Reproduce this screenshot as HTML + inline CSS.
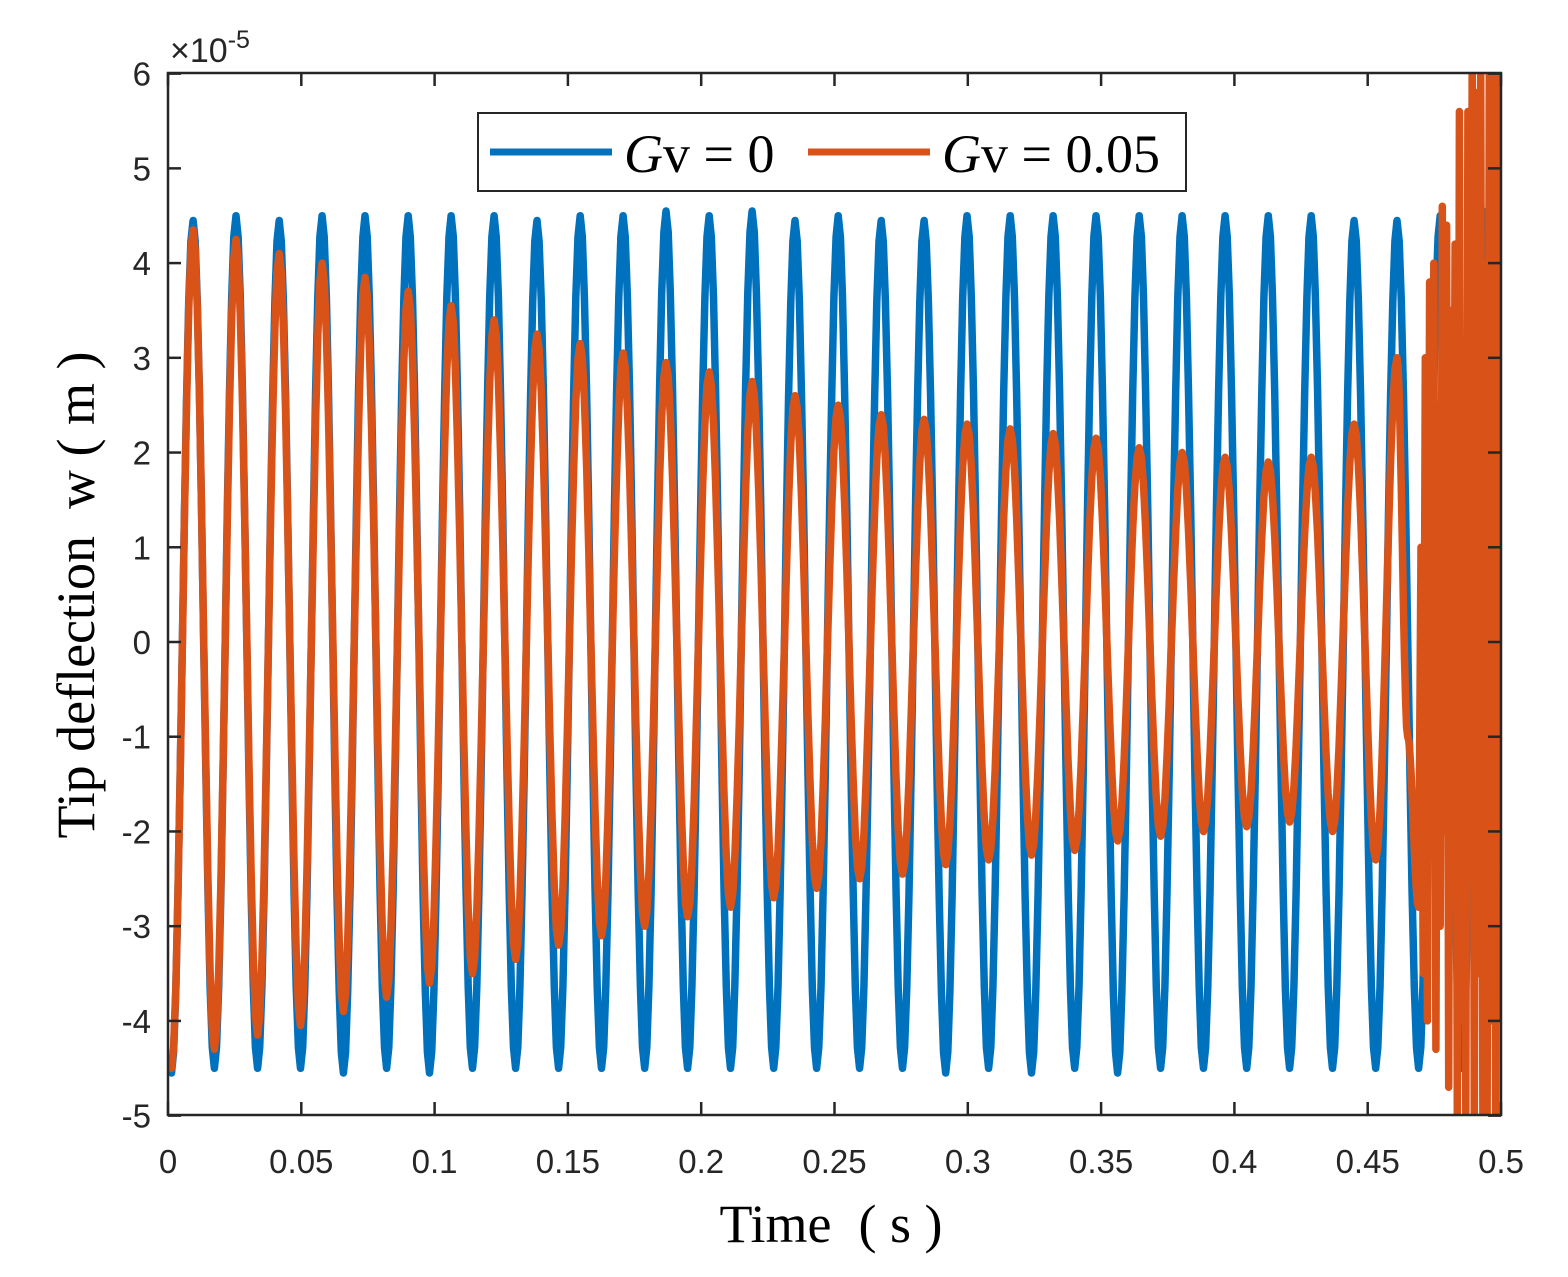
<!DOCTYPE html>
<html><head><meta charset="utf-8"><style>
body{margin:0;background:#fff;width:1568px;height:1277px;overflow:hidden}
svg{display:block}
.tk{font-family:"Liberation Sans",sans-serif;font-size:33px;fill:#262626}
.lab{font-family:"Liberation Serif",serif;font-size:54px;fill:#000}
</style></head><body>
<svg id="chart" width="1568" height="1277" xmlns="http://www.w3.org/2000/svg">
<defs><clipPath id="clip"><rect x="168" y="73" width="1333" height="1042"/></clipPath></defs>
<rect x="168" y="73" width="1333" height="1042" fill="#fff"/>
<g id="series" clip-path="url(#clip)"></g>
<rect x="168" y="73" width="1333" height="1042" fill="none" stroke="#262626" stroke-width="2.5"/>
<g id="ticks"></g>
<text class="tk" x="170" y="62" style="font-size:34px">×10<tspan dy="-14" style="font-size:25px">-5</tspan></text>
<text class="lab" x="831" y="1242" text-anchor="middle" xml:space="preserve">Time  ( s )</text>
<text class="lab" transform="translate(94,595) rotate(-90)" text-anchor="middle" xml:space="preserve">Tip deflection  w ( m )</text>
<g>
<rect x="478" y="113" width="708" height="78" fill="#fff" stroke="#262626" stroke-width="2"/>
<line x1="490" y1="152" x2="612" y2="152" stroke="#0072BD" stroke-width="7"/>
<text class="lab" x="624" y="172"><tspan font-style="italic">G</tspan>v = 0</text>
<line x1="808" y1="152" x2="930" y2="152" stroke="#D95319" stroke-width="7"/>
<text class="lab" x="942" y="172"><tspan font-style="italic">G</tspan>v = 0.05</text>
</g>
</svg>
<script>
const xTicks=[0,0.05,0.1,0.15,0.2,0.25,0.3,0.35,0.4,0.45,0.5];
const xTickLabels=["0","0.05","0.1","0.15","0.2","0.25","0.3","0.35","0.4","0.45","0.5"];
const yTicks=[-5,-4,-3,-2,-1,0,1,2,3,4,5,6];
const blueTimes=[0,0.0013,0.0094,0.0174,0.0255,0.0336,0.0417,0.0497,0.0578,0.0658,0.0739,0.0820,0.0901,0.0981,0.1062,0.1142,0.1223,0.1304,0.1384,0.1465,0.1546,0.1626,0.1707,0.1788,0.1868,0.1949,0.2030,0.2110,0.2191,0.2272,0.2352,0.2433,0.2514,0.2594,0.2675,0.2755,0.2836,0.2917,0.2997,0.3078,0.3159,0.3239,0.3320,0.3401,0.3481,0.3562,0.3643,0.3723,0.3804,0.3884,0.3965,0.4046,0.4127,0.4207,0.4288,0.4368,0.4449,0.4530,0.4610,0.4691,0.4772,0.4852,0.4933,0.5];
const blueValues=[-4.45,-4.55,4.45,-4.5,4.5,-4.5,4.45,-4.5,4.5,-4.55,4.5,-4.5,4.5,-4.55,4.5,-4.5,4.5,-4.5,4.45,-4.5,4.5,-4.5,4.5,-4.5,4.55,-4.5,4.5,-4.5,4.55,-4.5,4.45,-4.5,4.5,-4.5,4.45,-4.5,4.45,-4.55,4.5,-4.5,4.5,-4.55,4.5,-4.5,4.5,-4.55,4.5,-4.5,4.5,-4.5,4.5,-4.5,4.5,-4.5,4.5,-4.5,4.45,-4.5,4.45,-4.5,4.5,-4.5,4.55,-4.0];
const orangeTimes=[0,0.0013,0.0094,0.0174,0.0255,0.0336,0.0417,0.0497,0.0578,0.0658,0.0739,0.0820,0.0901,0.0981,0.1062,0.1142,0.1223,0.1304,0.1384,0.1465,0.1546,0.1626,0.1707,0.1788,0.1868,0.1949,0.2030,0.2110,0.2191,0.2272,0.2352,0.2433,0.2514,0.2594,0.2675,0.2755,0.2836,0.2917,0.2997,0.3078,0.3159,0.3239,0.3320,0.3401,0.3481,0.3562,0.3643,0.3723,0.3804,0.3884,0.3965,0.4046,0.4127,0.4207,0.4288,0.4368,0.4449,0.4530,0.4610,0.4650,0.4691,0.4700,0.4708,0.4716,0.4724,0.4732,0.4740,0.4748,0.4756,0.4764,0.4772,0.4780,0.4788,0.4796,0.4804,0.4812,0.4820,0.4828,0.4836,0.4844,0.4852,0.4860,0.4868,0.4876,0.4884,0.4892,0.4900,0.4908,0.4916,0.4924,0.4932,0.4940,0.4948,0.4956,0.4964,0.4972,0.4980,0.4988,0.4996,0.5];
const orangeValues=[-4.45,-4.5,4.35,-4.3,4.25,-4.15,4.1,-4.05,4.0,-3.9,3.85,-3.75,3.7,-3.6,3.55,-3.5,3.4,-3.35,3.25,-3.2,3.15,-3.1,3.05,-3.0,2.95,-2.9,2.85,-2.8,2.75,-2.7,2.6,-2.6,2.5,-2.5,2.4,-2.45,2.35,-2.35,2.3,-2.3,2.25,-2.25,2.2,-2.2,2.15,-2.1,2.05,-2.05,2.0,-2.0,1.95,-1.95,1.9,-1.9,1.95,-2.0,2.3,-2.3,3.0,-1.0,-2.8,1.0,-3.5,3.0,-4.0,3.8,-1.5,4.0,-4.3,2.5,-3.0,4.6,-2.0,4.4,-4.7,3.5,-1.0,4.2,-5.0,5.6,-4.0,3.0,-5.0,5.6,-2.5,6.2,-5.2,5.8,-3.5,6.2,-5.2,4.0,-5.2,6.2,-4.0,6.2,-5.2,6.2,1.0];
const X=t=>168+t/0.5*1333;
const Y=v=>642-v*(1042/11);
const NS="http://www.w3.org/2000/svg";
const tg=document.getElementById('ticks');
function mk(tag,attrs,parent){const e=document.createElementNS(NS,tag);for(const k in attrs)e.setAttribute(k,attrs[k]);parent.appendChild(e);return e;}
xTicks.forEach((t,i)=>{
  const l1=mk('line',{x1:X(t),x2:X(t),y1:1115,y2:1102,stroke:'#262626','stroke-width':2.5},tg);
  
  
  const l2=mk('line',{x1:X(t),x2:X(t),y1:73,y2:86,stroke:'#262626','stroke-width':2.5},tg);
  
  
  const tx=mk('text',{x:X(t),y:1173,'text-anchor':'middle',class:'tk'},tg);
  tx.textContent=xTickLabels[i];
  
  
});
yTicks.forEach(v=>{
  const l1=mk('line',{x1:168,x2:181,y1:Y(v),y2:Y(v),stroke:'#262626','stroke-width':2.5},tg);
  
  
  const l2=mk('line',{x1:1488,x2:1501,y1:Y(v),y2:Y(v),stroke:'#262626','stroke-width':2.5},tg);
  
  
  const tx=mk('text',{x:151,y:Y(v)+12,'text-anchor':'end',class:'tk'},tg);
  tx.textContent=String(v);
  
  
});
function pathFor(ts,vs){
  let d='M'+X(ts[0]).toFixed(1)+','+Y(vs[0]).toFixed(1);
  for(let i=1;i<ts.length;i++){
    const t0=ts[i-1],t1=ts[i],v0=vs[i-1],v1=vs[i];
    const n=(t1-t0)>0.002?10:1;
    for(let j=1;j<=n;j++){
      const f=j/n;const s=(1-Math.cos(Math.PI*f))/2;
      d+='L'+X(t0+(t1-t0)*f).toFixed(1)+','+Y(v0+(v1-v0)*s).toFixed(1);
    }
  }
  return d;
}
const sg=document.getElementById('series');
const pb=mk('path',{d:pathFor(blueTimes,blueValues),fill:'none',stroke:'#0072BD','stroke-width':7.5,'stroke-linejoin':'round'},sg);


const po=mk('path',{d:pathFor(orangeTimes,orangeValues),fill:'none',stroke:'#D95319','stroke-width':7.5,'stroke-linejoin':'round'},sg);


</script>
</body></html>
